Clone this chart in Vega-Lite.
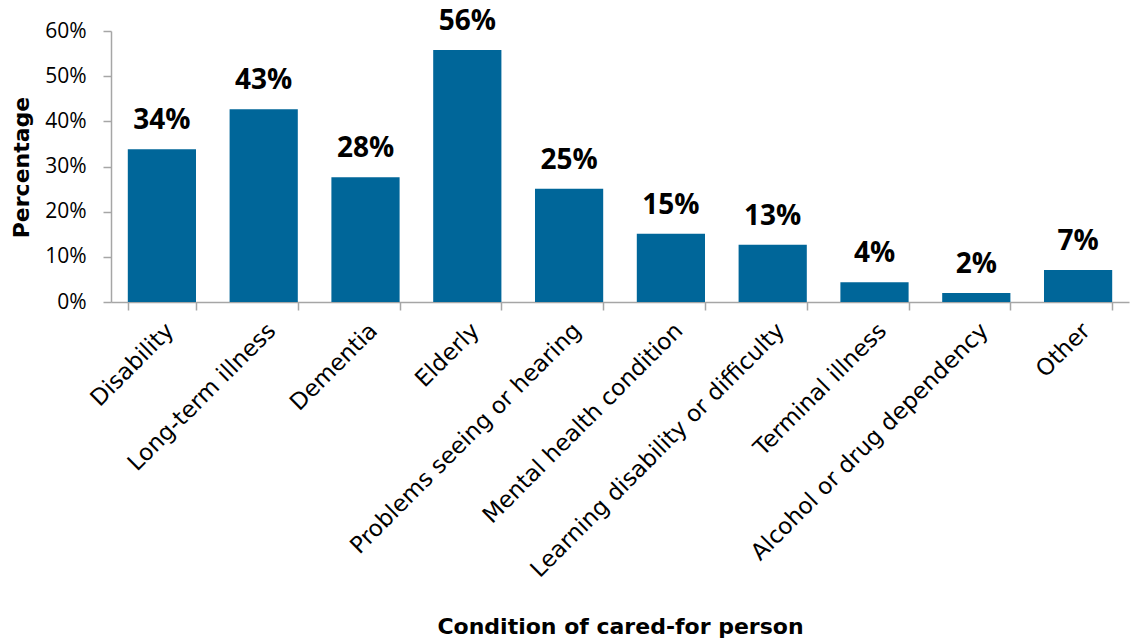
{
  "$schema": "https://vega.github.io/schema/vega-lite/v6.json",
  "autosize": "none",
  "width": 1018,
  "height": 271,
  "padding": {"left": 111, "top": 31, "right": 8, "bottom": 338},
  "background": "white",
  "config": {"view": {"stroke": null}, "font": "Open Sans"},
  "data": {"values": [
    {"condition": "Disability", "pct": 0.338},
    {"condition": "Long-term illness", "pct": 0.427},
    {"condition": "Dementia", "pct": 0.276},
    {"condition": "Elderly", "pct": 0.558},
    {"condition": "Problems seeing or hearing", "pct": 0.251},
    {"condition": "Mental health condition", "pct": 0.151},
    {"condition": "Learning disability or difficulty", "pct": 0.127},
    {"condition": "Terminal illness", "pct": 0.044},
    {"condition": "Alcohol or drug dependency", "pct": 0.02},
    {"condition": "Other", "pct": 0.071}
  ]},
  "encoding": {
    "x": {
      "field": "condition", "type": "nominal", "sort": null,
      "scale": {"paddingInner": 0.33, "paddingOuter": 0.165},
      "axis": {
        "title": "Condition of cared-for person",
        "titleFont": "DejaVu Sans", "titleFontSize": 22, "titleFontWeight": "bold", "titleColor": "black",
        "titleY": 331, "titleBaseline": "alphabetic",
        "labelAngle": -45, "labelFont": "DejaVu Sans", "labelFontSize": 23, "labelColor": "black",
        "labelPadding": 9, "labelLimit": 500,
        "tickBand": "extent", "tickSize": 8, "tickColor": "#a6a6a6", "domainColor": "#a6a6a6", "tickWidth": 1.5, "domainWidth": 1.5
      }
    },
    "y": {
      "field": "pct", "type": "quantitative",
      "scale": {"domain": [0, 0.6], "nice": false},
      "axis": {
        "title": "Percentage", "format": ".0%", "values": [0, 0.1, 0.2, 0.3, 0.4, 0.5, 0.6],
        "grid": false,
        "titleFont": "DejaVu Sans", "titleFontSize": 22, "titleFontWeight": "bold", "titleColor": "black",
        "titleAngle": -90, "titleX": -83, "titleY": 136, "titleBaseline": "alphabetic", "titleAlign": "center",
        "labelFont": "Open Sans", "labelFontSize": 21, "labelColor": "black", "labelPadding": 17,
        "tickSize": 8, "tickColor": "#a6a6a6", "domainColor": "#a6a6a6", "tickWidth": 1.5, "domainWidth": 1.5
      }
    }
  },
  "layer": [
    {"mark": {"type": "bar", "color": "#006699"}},
    {
      "mark": {"type": "text", "font": "Open Sans", "fontSize": 28, "fontWeight": "bold", "color": "black", "baseline": "alphabetic", "dy": -20},
      "encoding": {"text": {"field": "pct", "type": "quantitative", "format": ".0%"}}
    }
  ]
}
